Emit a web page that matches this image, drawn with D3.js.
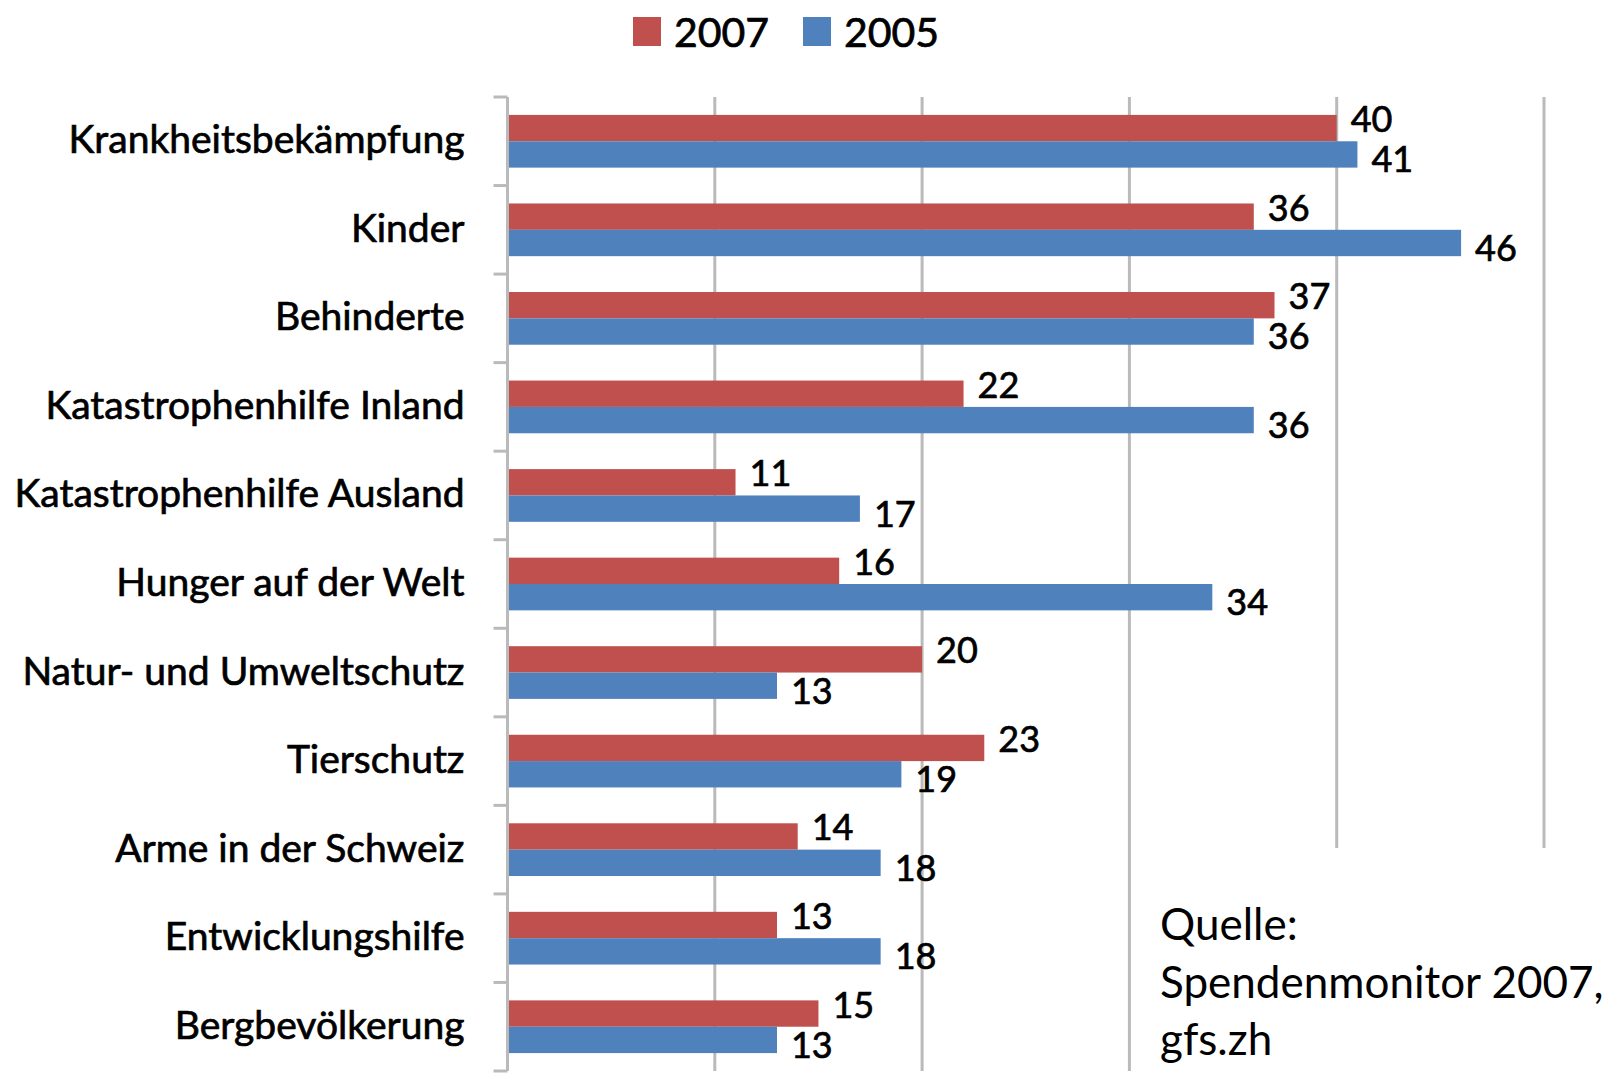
<!DOCTYPE html>
<html lang="de">
<head>
    <meta charset="UTF-8">
    <title>Spendenzwecke 2007 / 2005</title>
    <script src="https://d3js.org/d3.v7.min.js"></script>
    <style>
        body {
            margin: 0;
            background: #fff;
        }

        text {
            font-family: Lato, "Open Sans", sans-serif;
            fill: #000;
        }

        /* the chart texts look heavier than the text box, thicken them a bit */
        .cat, .val, .legend text {
            stroke: #000;
            stroke-width: 0.7px;
        }

        .cat {
            font-size: 39px;
            text-anchor: end;
        }

        .val {
            font-size: 36px;
        }

        .legend text {
            font-size: 41px;
        }

        .source {
            font-size: 44px;
        }
    </style>
</head>
<body>

<div id="chart"></div>

<script>
    const categories = [
        "Krankheitsbekämpfung",
        "Kinder",
        "Behinderte",
        "Katastrophenhilfe Inland",
        "Katastrophenhilfe Ausland",
        "Hunger auf der Welt",
        "Natur- und Umweltschutz",
        "Tierschutz",
        "Arme in der Schweiz",
        "Entwicklungshilfe",
        "Bergbevölkerung"
    ];
    const series = ["2007", "2005"];
    const values2007 = [40, 36, 37, 22, 11, 16, 20, 23, 14, 13, 15];
    const values2005 = [41, 46, 36, 36, 17, 34, 13, 19, 18, 18, 13];
    const xTicks = [0, 10, 20, 30, 40, 50];
    const sourceLines = ["Quelle:", "Spendenmonitor 2007,", "gfs.zh"];

    const width = 1614;
    const height = 1076;
    const colors = {"2007": "#C0504D", "2005": "#4F81BD"};
    const gridColor = "#bababa";

    const svg = d3.select("#chart")
        .append("svg")
        .attr("width", width)
        .attr("height", height);

    const x = d3.scaleLinear()
        .domain([0, 50])
        .range([507.5, 1544]);

    const y = d3.scaleBand()
        .domain(categories)
        .range([97, 1071]);

    // two bars per category, with Excel-like gap around each pair
    const ySub = d3.scaleBand()
        .domain(series)
        .range([0, y.bandwidth()])
        .paddingInner(0)
        .paddingOuter(0.68);

    // gridlines
    svg.append("g")
        .selectAll("line")
        .data(xTicks.slice(1))
        .enter()
        .append("line")
        .attr("x1", d => x(d))
        .attr("x2", d => x(d))
        .attr("y1", 97)
        .attr("y2", 1071)
        .attr("stroke", gridColor)
        .attr("stroke-width", 3);

    // bars
    const rows = categories.map((c, i) => ({
        cat: c,
        vals: [
            {s: "2007", v: values2007[i]},
            {s: "2005", v: values2005[i]}
        ]
    }));

    const groups = svg.append("g")
        .selectAll("g")
        .data(rows)
        .enter()
        .append("g")
        .attr("transform", d => `translate(0,${y(d.cat)})`);

    groups.selectAll("rect")
        .data(d => d.vals)
        .enter()
        .append("rect")
        .attr("x", x(0))
        .attr("y", d => ySub(d.s))
        .attr("width", d => x(d.v) - x(0))
        .attr("height", ySub.bandwidth())
        .attr("fill", d => colors[d.s]);

    // value labels (2007 a bit above its bar, 2005 a bit below)
    groups.selectAll("text.val")
        .data(d => d.vals)
        .enter()
        .append("text")
        .attr("class", "val")
        .attr("x", d => x(d.v) + 14)
        .attr("y", d => ySub(d.s) + ySub.bandwidth() / 2 + (d.s === "2007" ? -9 : 5))
        .attr("dy", "0.36em")
        .text(d => d.v);

    // white text box for the source, covers the gridlines behind it
    svg.append("rect")
        .attr("x", 1137)
        .attr("y", 848)
        .attr("width", width - 1137)
        .attr("height", height - 848)
        .attr("fill", "#fff");

    svg.append("g")
        .selectAll("text")
        .data(sourceLines)
        .enter()
        .append("text")
        .attr("class", "source")
        .attr("x", 1160)
        .attr("y", (d, i) => 940 + i * 57.5)
        .text(d => d);

    // category axis on the left
    const yAxis = d3.axisLeft(y).tickSize(0).tickPadding(43);
    const axisG = svg.append("g")
        .attr("transform", `translate(${x(0)},0)`)
        .call(yAxis);
    axisG.select(".domain").remove();
    axisG.selectAll("text")
        .attr("class", "cat")
        .attr("dy", null)
        .attr("y", 12)
        .style("font-size", null)
        .style("font-family", null);
    axisG.attr("font-size", null).attr("font-family", null);

    // axis line with outward ticks at the category boundaries
    svg.append("line")
        .attr("x1", x(0))
        .attr("x2", x(0))
        .attr("y1", 97)
        .attr("y2", 1071)
        .attr("stroke", gridColor)
        .attr("stroke-width", 3);

    const bounds = categories.map(c => y(c)).concat([y.range()[1]]);
    svg.append("g")
        .selectAll("line")
        .data(bounds)
        .enter()
        .append("line")
        .attr("x1", x(0) - 14)
        .attr("x2", x(0))
        .attr("y1", d => d)
        .attr("y2", d => d)
        .attr("stroke", gridColor)
        .attr("stroke-width", 3);

    // legend
    const legend = svg.append("g").attr("class", "legend");
    const legendX = [633, 803];
    series.forEach((s, i) => {
        legend.append("rect")
            .attr("x", legendX[i])
            .attr("y", 17)
            .attr("width", 28)
            .attr("height", 29)
            .attr("fill", colors[s]);
        legend.append("text")
            .attr("x", legendX[i] + 41)
            .attr("y", 46.5)
            .text(s);
    });
</script>
</body>
</html>
